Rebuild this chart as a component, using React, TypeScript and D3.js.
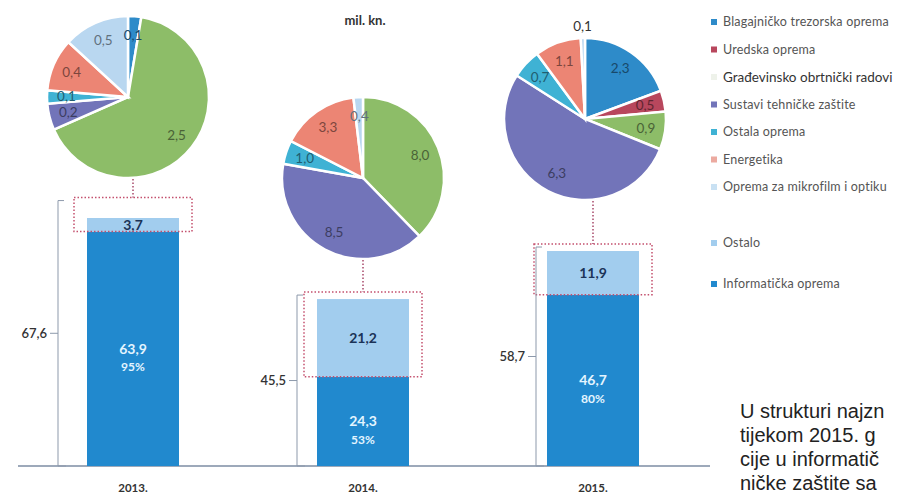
import React from "react";
import * as d3 from "d3";

// values in mil. kn.
const years = ["2013.", "2014.", "2015."];
const informaticka = [63.9, 24.3, 46.7];
const ostalo = [3.7, 21.2, 11.9];
const totals = [67.6, 45.5, 58.7];

const pieCategories = [
  "Blagajničko trezorska oprema",
  "Uredska oprema",
  "Građevinsko obrtnički radovi",
  "Sustavi tehničke zaštite",
  "Ostala oprema",
  "Energetika",
  "Oprema za mikrofilm i optiku",
];
const pie2013 = [0.1, 0, 2.5, 0.2, 0.1, 0.4, 0.5];
const pie2014 = [0, 0, 8.0, 8.5, 1.0, 3.3, 0.4];
const pie2015 = [2.3, 0.5, 0.9, 6.3, 0.7, 1.1, 0.1];
const pies = [pie2013, pie2014, pie2015];

// the side text is cut by the picture edge, only the visible part is kept
const textLines = ["U strukturi najzn", "tijekom 2015. g", "cije u informatič", "ničke zaštite sa"];

// styling / layout
const pieColors = ["#2e8bc9", "#b8475d", "#8dbd68", "#7274b9", "#3fb2d4", "#ec8574", "#b9d7f0"];
const legendMarker = ["#2e8bc9", "#b8475d", "#eef2ea", "#7274b9", "#3fb2d4", "#ecaaa0", "#c9e1f3"];
const darkBlue = "#2189ce";
const lightBlue = "#a2cdee";
const pieCenters = [
  [128, 97],
  [363, 178],
  [585, 119],
];
const pieR = 81;
const bracketGap = [29, 20, 11];
const font = "Lato, 'Open Sans', sans-serif";

const W = 914;
const H = 497;

export default function App() {
  const x = d3
    .scaleBand()
    .domain(years)
    .range([18, 708])
    .paddingInner(0.6)
    .paddingOuter(0.3);
  const y = d3.scaleLinear().domain([0, 67.6]).range([466, 218]);

  const pieGen = d3
    .pie<number>()
    .sort(null)
    .value((d) => d);
  const arc = d3.arc<d3.PieArcDatum<number>>().innerRadius(0).outerRadius(pieR);
  const labelArc = d3
    .arc<d3.PieArcDatum<number>>()
    .innerRadius(pieR * 0.76)
    .outerRadius(pieR * 0.76);
  const outArc = d3
    .arc<d3.PieArcDatum<number>>()
    .innerRadius(pieR * 1.14)
    .outerRadius(pieR * 1.14);

  const fmt = (v: number) => v.toFixed(1).replace(".", ",");

  // label positions, pushed apart a little when two small slices sit together
  const pieLabels = pies.map((vals) => {
    const total = d3.sum(vals);
    const labs = pieGen(vals)
      .map((s, j) => {
        const outside = s.value / total < 0.015;
        const [lx, ly] = outside ? outArc.centroid(s) : labelArc.centroid(s);
        return { s, j, outside, lx, ly };
      })
      .filter((l) => l.s.value > 0);
    for (let k = 0; k < 3; k++) {
      labs.forEach((a) =>
        labs.forEach((b) => {
          if (a === b || Math.abs(a.lx - b.lx) > 26) return;
          const d = b.ly - a.ly;
          if (d >= 0 && d < 16) {
            const push = (16 - d) / 2;
            a.ly -= push;
            b.ly += push;
          }
        })
      );
    }
    return labs;
  });

  return (
    <svg
      width={W}
      height={H}
      style={{ position: "absolute", left: 0, top: 0, background: "#fff" }}
      fontFamily={font}
    >
      <text x={365} y={25} textAnchor="middle" fontSize={13} fontWeight="bold" fill="#333">
        mil. kn.
      </text>

      {/* pies */}
      {pies.map((vals, i) => {
        const [cx, cy] = pieCenters[i];
        return (
          <g key={"pie" + i} transform={`translate(${cx},${cy})`}>
            {pieGen(vals).map((s, j) =>
              s.value > 0 ? (
                <path key={j} d={arc(s) || ""} fill={pieColors[j]} stroke="#fff" strokeWidth={2.5} />
              ) : null
            )}
            {pieLabels[i].map((l) => (
              <text
                key={"l" + l.j}
                x={l.lx}
                y={l.ly}
                dy="0.35em"
                textAnchor="middle"
                fontSize={13.5}
                fill={l.outside ? "#333" : d3.color(pieColors[l.j])!.darker(1.8).formatHex()}
              >
                {fmt(l.s.value)}
              </text>
            ))}
          </g>
        );
      })}

      {/* axis line */}
      <line x1={18} x2={710} y1={y(0)} y2={y(0)} stroke="#7d8ca3" strokeWidth={1.5} />

      {/* bars */}
      {years.map((yr, i) => {
        const bx = x(yr)!;
        const bw = x.bandwidth();
        const cxBar = bx + bw / 2;
        const darkTop = y(informaticka[i]);
        const lightTop = y(informaticka[i] + ostalo[i]);
        const boxTop = Math.min(lightTop - 7, darkTop - 34);
        const brX = bx - bracketGap[i];
        const brTop = boxTop + 3;
        const mid = (brTop + y(0)) / 2;
        const pct = Math.round((informaticka[i] / totals[i]) * 100);
        const pieBottom = pieCenters[i][1] + pieR;
        return (
          <g key={yr}>
            <rect x={bx} y={darkTop} width={bw} height={y(0) - darkTop} fill={darkBlue} />
            <rect x={bx} y={lightTop} width={bw} height={darkTop - lightTop} fill={lightBlue} />
            <text
              x={cxBar}
              y={(lightTop + darkTop) / 2}
              dy="0.35em"
              textAnchor="middle"
              fontSize={14}
              fontWeight="bold"
              fill="#1b3357"
            >
              {fmt(ostalo[i])}
            </text>
            <text
              x={cxBar}
              y={(darkTop + y(0)) / 2}
              dy="0.35em"
              textAnchor="middle"
              fontSize={14}
              fontWeight="bold"
              fill="#e4f5ff"
            >
              {fmt(informaticka[i])}
            </text>
            <text
              x={cxBar}
              y={(darkTop + y(0)) / 2 + 18}
              dy="0.35em"
              textAnchor="middle"
              fontSize={12}
              fontWeight="bold"
              fill="#e4f5ff"
            >
              {pct}%
            </text>

            {/* dotted box around Ostalo */}
            <rect
              x={bx - 13}
              y={boxTop}
              width={bw + 26}
              height={darkTop - boxTop}
              fill="none"
              stroke="#c4506e"
              strokeWidth={1.5}
              strokeDasharray="1.5,2"
            />
            <line
              x1={cxBar}
              x2={cxBar}
              y1={pieBottom + 1}
              y2={boxTop}
              stroke="#a8486a"
              strokeWidth={1.5}
              strokeDasharray="1.5,2"
            />

            {/* bracket with total */}
            <path
              d={`M${brX + 6},${brTop} H${brX} V${y(0)} H${brX + 8} M${brX},${mid} H${brX - 8}`}
              fill="none"
              stroke="#8d99ab"
              strokeWidth={1}
            />
            <text
              x={brX - 11}
              y={mid}
              dy="0.35em"
              textAnchor="end"
              fontSize={13}
              fontWeight="600"
              fill="#333"
            >
              {fmt(totals[i])}
            </text>

            <text x={cxBar} y={492} textAnchor="middle" fontSize={11.5} fontWeight="bold" fill="#333">
              {yr}
            </text>
          </g>
        );
      })}

      {/* legend */}
      {pieCategories.map((c, j) => {
        const ly = 22 + j * 27.5;
        const big = j === 2;
        return (
          <g key={c}>
            <rect x={711} y={ly - 3} width={6} height={6} fill={legendMarker[j]} />
            <text
              x={723}
              y={ly}
              dy="0.35em"
              fontSize={big ? 13.5 : 12.5}
              fill={big ? "#333" : "#555"}
              letterSpacing={big ? 0 : 0.2}
            >
              {c}
            </text>
          </g>
        );
      })}
      <rect x={711} y={240} width={6} height={6} fill={lightBlue} />
      <text x={723} y={243} dy="0.35em" fontSize={12.5} fill="#555" letterSpacing={0.2}>
        Ostalo
      </text>
      <rect x={711} y={281} width={6} height={6} fill={darkBlue} />
      <text x={723} y={284} dy="0.35em" fontSize={12.5} fill="#555" letterSpacing={0.2}>
        Informatička oprema
      </text>

      {/* side text */}
      {textLines.map((t, k) => (
        <text
          key={k}
          x={740}
          y={418 + k * 24}
          fontSize={20}
          fontFamily="'Liberation Sans', Arial, sans-serif"
          fill="#222"
        >
          {t}
        </text>
      ))}
    </svg>
  );
}
